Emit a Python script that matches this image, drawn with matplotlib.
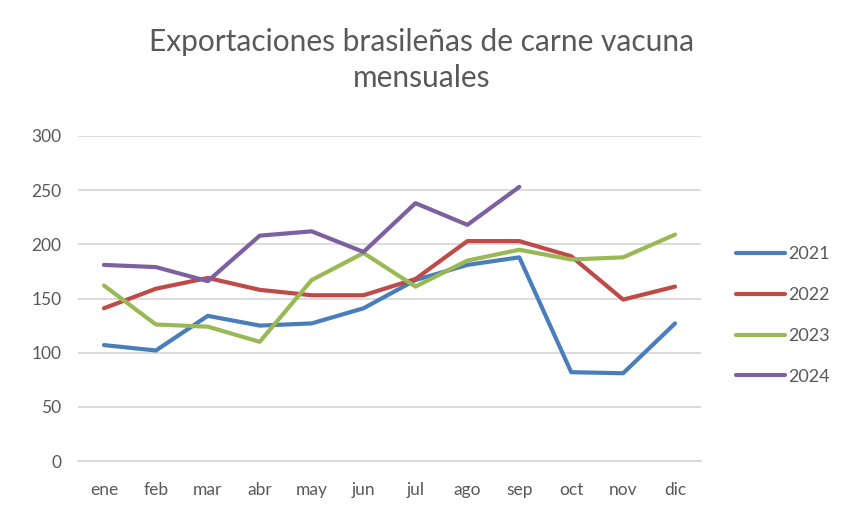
import matplotlib
matplotlib.use("Agg")
import matplotlib.pyplot as plt

plt.rcParams["font.family"] = ["Lato", "DejaVu Sans"]

meses = ["ene", "feb", "mar", "abr", "may", "jun", "jul", "ago", "sep", "oct", "nov", "dic"]

exp_2021 = [107, 102, 134, 125, 127, 141, 167, 181, 188, 82, 81, 127]
exp_2022 = [141, 159, 169, 158, 153, 153, 168, 203, 203, 189, 149, 161]
exp_2023 = [162, 126, 124, 110, 167, 192, 161, 185, 195, 186, 188, 209]
exp_2024 = [181, 179, 166, 208, 212, 193, 238, 218, 253]

series = [
    ("2021", exp_2021, "#4A7EBB"),
    ("2022", exp_2022, "#BE4B48"),
    ("2023", exp_2023, "#98B954"),
    ("2024", exp_2024, "#7D60A0"),
]

fig = plt.figure(figsize=(8.57, 5.18), dpi=100)
ax = fig.add_axes([78 / 857, 1 - 461 / 518, (701 - 78) / 857, (461 - 136) / 518])

for name, vals, color in series:
    ax.plot(range(len(vals)), vals, color=color, lw=3, label=name, solid_capstyle="round")

ax.set_xlim(-0.5, len(meses) - 0.5)
ax.set_ylim(0, 300)
ax.set_yticks(range(0, 301, 50))
ax.set_xticks(range(len(meses)))
ax.set_xticklabels(meses)
ax.grid(axis="y", color="#D9D9D9", lw=1.3)
ax.set_axisbelow(True)
for s in ["top", "right", "left"]:
    ax.spines[s].set_visible(False)
ax.spines["bottom"].set_color("#D9D9D9")
ax.spines["bottom"].set_linewidth(1.3)
ax.tick_params(length=0, labelsize=12.5, colors="#595959", pad=12)
ax.tick_params(axis="x", pad=15)

fig.text(422 / 857, 1 - 60 / 518, "Exportaciones brasileñas de carne vacuna\nmensuales",
         ha="center", va="center", fontsize=21.5, color="#595959", linespacing=1.35)

leg = ax.legend(loc="upper left", bbox_to_anchor=(736 / 857, 1 - 246 / 518),
                bbox_transform=fig.transFigure, frameon=False, fontsize=13,
                borderpad=0, borderaxespad=0,
                handlelength=2.7, handletextpad=0.2, labelspacing=1.38, labelcolor="#595959")

fig.savefig("out.png", dpi=100)
